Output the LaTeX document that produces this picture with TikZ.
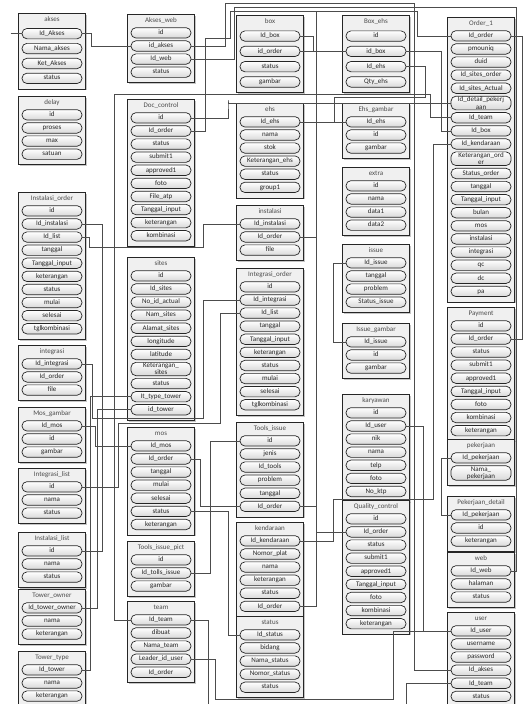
\documentclass[tikz,border=0pt]{standalone}
\usepackage{fontspec}
\setmainfont{Carlito}
\usetikzlibrary{positioning,fit,backgrounds,shadows}
\newcommand{\fieldfont}{\fontsize{7}{7.2}\selectfont}
% one table: [row gap]{name}{left x}{top y}{title}{fields}
\newcommand{\erdtable}[6][2pt]{%
  \node[tbltitle] (#2) at ({#3+33},{#4+6}) {#5};%
  \xdef\erdprev{#2}%
  \foreach \fld [count=\i] in {#6}{%
    \node[fieldpill, below=#1 of \erdprev] (#2-\i) {\vphantom{Ig}\fld};%
    \xdef\erdprev{#2-\i}%
  }%
  \begin{scope}[on background layer]
    \node[tblbox, fit={(#2) (\erdprev) ([yshift=-3pt]\erdprev.south)}] {};
  \end{scope}%
}
\begin{document}
\begin{tikzpicture}[
    x=1pt, y=-1pt,
    tbltitle/.style={font=\fieldfont, text=black!70, inner sep=1pt, text height=4.8pt, text depth=1.4pt},
    fieldpill/.style={draw=black!85, line width=0.7pt, rounded corners=5pt, top color=white, bottom color=black!15, minimum width=60pt, minimum height=10.4pt, inner sep=0.8pt, align=center, font=\fieldfont, text=black!85},
    tblbox/.style={draw=black!85, line width=0.8pt, fill=black!6, inner xsep=3pt, inner ysep=2pt, drop shadow={shadow xshift=1.2pt, shadow yshift=-1.2pt, opacity=0.45}},
    link/.style={draw=black!70, line width=0.65pt},
]
\useasboundingbox (0,0) rectangle (524,704);

% Column 1
\erdtable[3.8pt]{akses}{19}{14}{akses}{Id\_Akses, Nama\_akses, Ket\_Akses, status}
\erdtable{delay}{19}{97}{delay}{id, proses, max, satuan}
\erdtable{instorder}{19}{193}{Instalasi\_order}{id, Id\_instalasi, Id\_list, tanggal, Tanggal\_input, keterangan, status, mulai, selesai, tglkombinasi}
\erdtable{integrasi}{19}{346}{integrasi}{Id\_integrasi, Id\_order, file}
\erdtable{mosgambar}{19}{408}{Mos\_gambar}{Id\_mos, id, gambar}
\erdtable{intlist}{19}{469}{Integrasi\_list}{id, nama, status}
\erdtable{instlist}{19}{533}{Instalasi\_list}{id, nama, status}
\erdtable{towerowner}{19}{590}{Tower\_owner}{Id\_tower\_owner, nama, keterangan}
\erdtable{towertype}{19}{652}{Tower\_type}{Id\_tower, nama, keterangan}

% Column 2
\erdtable{aksesweb}{128}{15}{Akses\_web}{id, id\_akses, Id\_web, status}
\erdtable{doc}{128}{100}{Doc\_control}{id, Id\_order, status, submit1, approved1, foto, File\_atp, Tanggal\_input, keterangan, kombinasi}
\erdtable{sites}{128}{258}{sites}{id, Id\_sites, No\_id\_actual, Nam\_sites, Alamat\_sites, longitude, latitude, Keterangan\_\\sites, status, It\_type\_tower, id\_tower}
\erdtable{mos}{128}{428}{mos}{Id\_mos, Id\_order, tanggal, mulai, selesai, status, keterangan}
\erdtable{toolspict}{128}{542}{Tools\_issue\_pict}{id, Id\_tolls\_issue, gambar}
\erdtable{team}{128}{602}{team}{Id\_team, dibuat, Nama\_team, Leader\_id\_user, Id\_order}

% Column 3
\erdtable[4.2pt]{box}{237}{16}{box}{Id\_box, id\_order, status, gambar}
\erdtable{ehs}{237}{104}{ehs}{Id\_ehs, nama, stok, Keterangan\_ehs, status, group1}
\erdtable{inst}{237}{206}{instalasi}{Id\_instalasi, Id\_order, file}
\erdtable{intorder}{237}{269}{Integrasi\_order}{id, Id\_integrasi, Id\_list, tanggal, Tanggal\_input, keterangan, status, mulai, selesai, tglkombinasi}
\erdtable{tools}{237}{423}{Tools\_issue}{id, jenis, Id\_tools, problem, tanggal, Id\_order}
\erdtable{kend}{237}{523}{kendaraan}{Id\_kendaraan, Nomor\_plat, nama, keterangan, status, Id\_order}
\erdtable{status}{237}{617}{status}{Id\_status, bidang, Nama\_status, Nomor\_status, status}

% Column 4
\erdtable[4.2pt]{boxehs}{343}{16}{Box\_ehs}{id, id\_box, Id\_ehs, Qty\_ehs}
\erdtable{ehsgambar}{343}{104}{Ehs\_gambar}{Id\_ehs, id, gambar}
\erdtable{extra}{343}{168}{extra}{id, nama, data1, data2}
\erdtable{issue}{343}{245}{issue}{Id\_issue, tanggal, problem, Status\_issue}
\erdtable{issuegambar}{343}{324}{Issue\_gambar}{Id\_issue, id, gambar}
\erdtable{karyawan}{343}{395}{karyawan}{id, Id\_user, nik, nama, telp, foto, No\_ktp}
\erdtable{qc}{343}{501}{Quality\_control}{id, Id\_order, status, submit1, approved1, Tanggal\_input, foto, kombinasi, keterangan}

% Column 5
\erdtable{order}{448}{18}{Order\_1}{Id\_order, pmouniq, duid, Id\_sites\_order, Id\_sites\_Actual, Id\_detail\_pekerj\\aan, Id\_team, Id\_box, Id\_kendaraan, Keterangan\_ord\\er, Status\_order, tanggal, Tanggal\_input, bulan, mos, instalasi, integrasi, qc, dc, pa}
\erdtable{payment}{448}{308}{Payment}{id, Id\_order, status, submit1, approved1, Tanggal\_input, foto, kombinasi, keterangan}
\erdtable{pekerjaan}{448}{440}{pekerjaan}{Id\_pekerjaan, Nama\_\\pekerjaan}
\erdtable{pekdetail}{448}{497}{Pekerjaan\_detail}{Id\_pekerjaan, id, keterangan}
\erdtable{web}{448}{553}{web}{Id\_web, halaman, status}
\erdtable{user}{448}{613}{user}{Id\_user, username, password, Id\_akses, Id\_team, status}

% Access links
\path (akses-1.west) ++(-11,0) coordinate (aksesin);
\draw[link] (aksesin) -- (akses-1.west);
\draw[link] (akses-1.east) -- ++(9,0) |- (aksesweb-2.west);
\draw[link] (aksesweb-3.east) -| (234,7) -- (516,7) |- (web-1.east);
\draw[link] (user-4.west) -| (414,3) -- (225,3) |- (aksesweb-2.east);

% Id_order bus along the top
\draw[link] (doc-2.east) -| (205,38) -| (230,11) -- (417,11) |- (order-1.west);
\draw[link] (box-2.east) -| (316,11) -- (417,11) |- (order-1.west);
\draw[link] (inst-2.east) -| (316,11) -- (417,11) |- (order-1.west);
\draw[link] (qc-2.west) -| (316,11) -- (417,11) |- (order-1.west);
\draw[link] (tools-6.east) -- ++(16,0) |- (qc-2.west);
\draw[link] (kend-6.east) -- ++(16,0) |- (qc-2.west);
\draw[link] (order-1.east) -- ++(11,0) |- (payment-2.east);

% Box and ehs links
\draw[link] (box-1.east) -- ++(13,0) |- (boxehs-2.west);
\draw[link] (boxehs-2.east) -- ++(35,0) |- (order-8.west);
\draw[link] (ehs-1.east) -- (ehsgambar-1.west);
\draw[link] (boxehs-3.east) -| (425,97) -- (334,97) |- (ehs-1.east);

% Long links into Order_1
\draw[link] (doc-1.east) -| (228,100) |- (order-6.west);
\draw[link] (team-1.west) -| (114,94) -- (430,94) |- (order-7.west);
\draw[link] (kend-1.east) -| (333,499) -- (433,499) |- (order-9.west);

% Column 1 links
\draw[link] (instorder-2.east) -- ++(20,0) |- (instlist-1.east);
\draw[link] (instorder-3.east) -| (89,247) -- (203,247) |- (inst-1.west);
\draw[link] (integrasi-1.east) -| (92,418) -- (203,418) |- (intorder-2.west);
\draw[link] (intlist-1.east) -| (118,423) -- (220,423) |- (intorder-3.west);
\draw[link] (mosgambar-1.east) -- ++(13,0) |- (mos-1.west);
\draw[link] (towertype-1.east) -- ++(8,0) |- (sites-10.west);
\draw[link] (towerowner-1.east) -- ++(15,0) |- (sites-11.west);

% mos, tools and team links
\draw[link] (mos-2.east) -- ++(9,0) |- (tools-6.west);
\draw[link] (toolspict-2.east) -- ++(19,0) |- (tools-1.west);
\draw[link] (mos-6.east) -- ++(37,0) |- (status-1.west);
\coordinate (teamout) at (208,704);
\coordinate (userout) at (406,704);
\draw[link] (team-1.east) -| (teamout);
\draw[link] (user-5.west) -| (userout);
\draw[link] (team-4.east) -| (215,699) -- (393,699) |- (user-1.west);
\draw[link] (karyawan-2.east) -- ++(17,0) |- (user-1.west);

% Issue and pekerjaan links
\draw[link] (issue-1.west) -- ++(-12,0) |- (issuegambar-1.west);
\draw[link] (pekerjaan-1.west) -- ++(-9,0) |- (pekdetail-1.west);
\end{tikzpicture}
\end{document}
